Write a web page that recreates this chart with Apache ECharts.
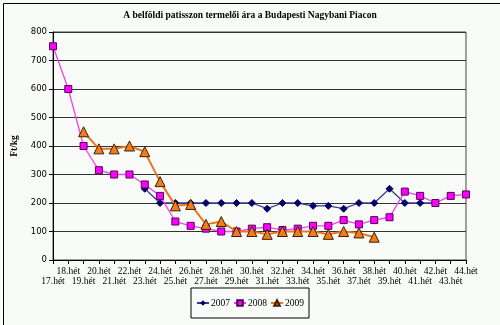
<!DOCTYPE html>
<html>
<head>
<meta charset="utf-8">
<script src="https://cdn.jsdelivr.net/npm/echarts@6/dist/echarts.min.js"></script>
<style>html,body{margin:0;padding:0;background:#f8fbf8;}#c{width:500px;height:325px;}</style>
</head>
<body>
<div id="c"></div>
<script>
var weeks = [17,18,19,20,21,22,23,24,25,26,27,28,29,30,31,32,33,34,35,36,37,38,39,40,41,42,43,44];
var categories = weeks.map(function(w){return w + '.hét';});
var s2007 = [null,null,null,null,null,null,250,200,200,200,200,200,200,200,180,200,200,190,190,180,200,200,250,200,200,200,null,null];
var s2008 = [750,600,400,315,300,300,265,225,135,120,110,100,100,110,115,105,110,120,120,140,125,140,150,240,225,200,225,230];
var s2009 = [null,null,450,390,390,400,380,275,190,195,125,135,100,100,90,100,100,100,90,100,95,80,null,null,null,null,null,null];
var yTicks = [0,100,200,300,400,500,600,700,800];

var chart = echarts.init(document.getElementById('c'), null, {renderer:'canvas'});
var serif = '"Liberation Serif", "Times New Roman", serif';
chart.setOption({
  backgroundColor: '#f8fbf8',
  animation: false,
  title: {
    text: 'A belföldi patisszon termelői ára a Budapesti Nagybani Piacon',
    left: 'center', top: 6,
    textStyle: {fontFamily: serif, fontSize: 9.5, fontWeight: 'bold', color: '#000'}
  },
  legend: {
    left: 'center', top: 288,
    padding: [10, 5, 10, 5],
    borderColor: '#000', borderWidth: 1, backgroundColor: '#f8fbf8',
    itemWidth: 12, itemHeight: 7, itemGap: 3,
    textStyle: {fontFamily: serif, fontSize: 9.5, color: '#000', padding: [0,0,0,-3]},
    data: ['2007','2008','2009']
  },
  grid: {left: 53, right: 34, top: 32, bottom: 65, show: true, borderColor: '#444', borderWidth: 1, backgroundColor: '#f8fbf8'},
  xAxis: {
    type: 'category', data: categories, boundaryGap: false,
    axisLine: {lineStyle: {color: '#000', width: 1}},
    axisTick: {show: true, interval: 0, length: 4, lineStyle: {color: '#000'}},
    axisLabel: {
      interval: 0, margin: 6, fontFamily: serif, fontSize: 9.5, color: '#000', lineHeight: 10,
      formatter: function(v, i){ return i % 2 === 0 ? '\n' + v : v; }
    }
  },
  yAxis: {
    type: 'value', min: 0, max: 800, interval: 100,
    name: 'Ft/kg', nameLocation: 'middle', nameGap: 29, nameRotate: 90,
    nameTextStyle: {fontFamily: serif, fontSize: 9.5, fontWeight: 'bold', color: '#000'},
    axisLine: {show: true, lineStyle: {color: '#000'}},
    axisTick: {show: true, length: 4, lineStyle: {color: '#000'}},
    axisLabel: {fontFamily: '"DejaVu Sans", Verdana, sans-serif', fontSize: 8.5, color: '#000', margin: 6,
      formatter: function(v){ return yTicks.indexOf(v) >= 0 ? String(v) : ''; }},
    splitLine: {show: true, lineStyle: {color: '#333', width: 1}}
  },
  series: [
    {name: '2007', type: 'line', data: s2007, symbol: 'diamond', symbolSize: 7,
      lineStyle: {color: '#3b3b8f', width: 1.3}, itemStyle: {color: '#000066', borderColor: '#000066'}, z: 2},
    {name: '2008', type: 'line', data: s2008, symbol: 'rect', symbolSize: 7,
      lineStyle: {color: '#ee44ee', width: 1.3}, itemStyle: {color: '#ff00ff', borderColor: '#550055', borderWidth: 1}, z: 3},
    {name: '2009', type: 'line', data: s2009, symbol: 'triangle', symbolSize: 10,
      lineStyle: {color: '#e8781e', width: 2}, itemStyle: {color: '#f07c1c', borderColor: '#402000', borderWidth: 1}, z: 4}
  ],
  graphic: [{type: 'rect', left: 1, top: 1, shape: {width: 497, height: 322}, style: {fill: 'none', stroke: '#000', lineWidth: 1}, z: 100, silent: true}]
});
</script>
</body>
</html>
